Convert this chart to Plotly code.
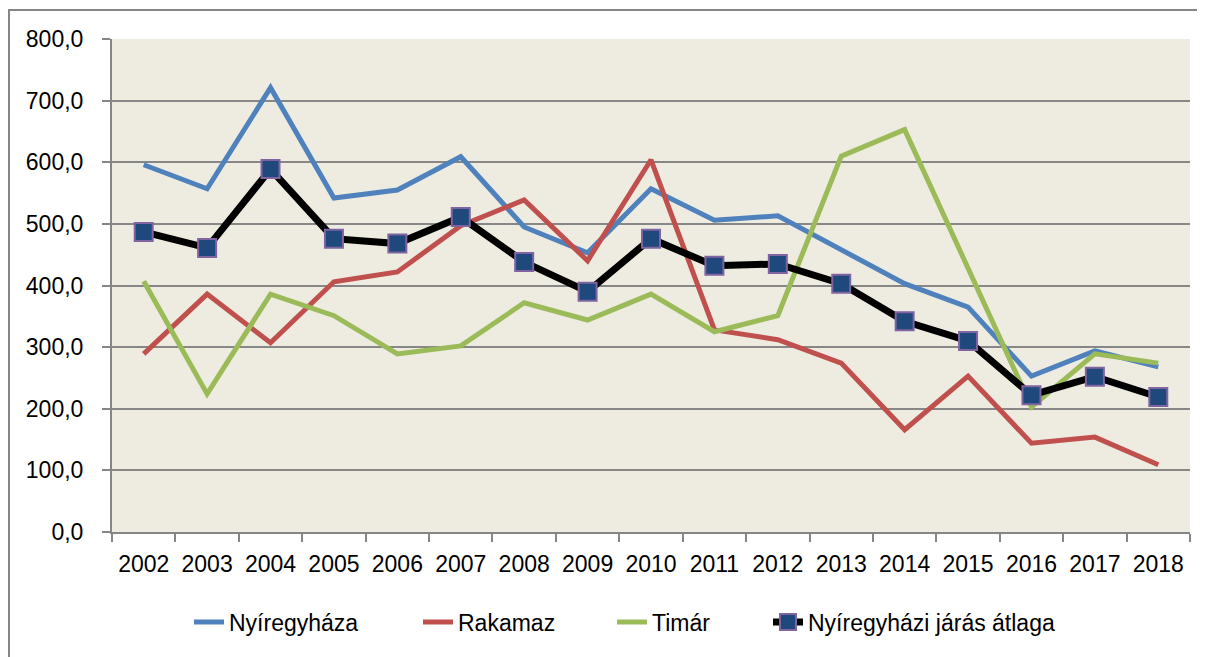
import plotly.graph_objects as go

years = [str(y) for y in range(2002, 2019)]
nyiregyhaza = [596, 557, 721, 542, 555, 609, 495, 453, 557, 506, 513, 458, 403, 365, 253, 294, 268]
rakamaz = [289, 386, 307, 406, 422, 497, 539, 440, 604, 328, 312, 274, 166, 253, 144, 154, 109]
timar = [407, 224, 386, 351, 289, 302, 372, 344, 386, 325, 351, 610, 653, 427, 203, 289, 274]
atlag = [487, 461, 589, 476, 468, 511, 438, 390, 476, 432, 435, 403, 342, 310, 222, 252, 219]
y_ticks = [0, 100, 200, 300, 400, 500, 600, 700, 800]
y_ticktext = ["0,0", "100,0", "200,0", "300,0", "400,0", "500,0", "600,0", "700,0", "800,0"]

font_family = "Liberation Sans, Arial, sans-serif"

fig = go.Figure()
fig.add_trace(go.Scatter(x=years, y=nyiregyhaza, mode="lines", name="Nyíregyháza",
                         line=dict(color="#4F81BD", width=5), legend="legend"))
fig.add_trace(go.Scatter(x=years, y=rakamaz, mode="lines", name="Rakamaz",
                         line=dict(color="#C0504D", width=5), legend="legend2"))
fig.add_trace(go.Scatter(x=years, y=timar, mode="lines", name="Timár",
                         line=dict(color="#9BBB59", width=5), legend="legend3"))
fig.add_trace(go.Scatter(x=years, y=atlag, mode="lines+markers", name="Nyíregyházi járás átlaga",
                         line=dict(color="#000000", width=7),
                         marker=dict(symbol="square", size=18, color="#1F497D",
                                     line=dict(color="#8064A2", width=2)),
                         legend="legend4"))

# page has an 8px body margin; compensate
OFF = 8
W, H = 1205 - OFF, 657 - OFF
L, R, T = 112 - OFF, 1205 - 1190, 39 - OFF
B = H - (532 - OFF)
pw = W - L - R
ph = H - T - B

legend_y = (532 - 622) / ph


def leg(text_start_px):
    return dict(orientation="h", x=(text_start_px - 40 - 112) / pw, xanchor="left",
                y=legend_y, yanchor="middle", font=dict(size=23),
                bgcolor="rgba(0,0,0,0)", borderwidth=0)


fig.update_layout(
    width=W, height=H,
    margin=dict(l=L, r=R, t=T, b=B, autoexpand=False),
    paper_bgcolor="white",
    plot_bgcolor="#EEECE1",
    font=dict(family=font_family, size=23, color="black"),
    showlegend=True,
    legend=leg(229),
    legend2=leg(458),
    legend3=leg(652),
    legend4=leg(808),
    xaxis=dict(type="category", range=[-0.5, 16.5], showgrid=False, showline=True,
               linecolor="#868686", linewidth=2,
               ticks="outside", tickson="boundaries", ticklen=8, tickcolor="#868686", tickwidth=2,
               tickfont=dict(size=23), ticklabelstandoff=10, fixedrange=True, automargin=False),
    yaxis=dict(range=[0, 800], tickvals=y_ticks, ticktext=y_ticktext, showgrid=True,
               gridcolor="#878787", gridwidth=2, showline=True, linecolor="#868686", linewidth=2,
               ticks="outside", ticklen=8, tickcolor="#868686", tickwidth=2, zeroline=False,
               tickfont=dict(size=23), ticklabelstandoff=14, fixedrange=True, automargin=False),
    shapes=[
        dict(type="rect", xref="paper", yref="paper",
             x0=(9 - OFF - L) / pw, x1=(1400 - L) / pw,
             y0=(H - B - 800) / ph, y1=(H - B - (10 - OFF)) / ph,
             line=dict(color="#868686", width=2), fillcolor="rgba(0,0,0,0)", layer="below"),
    ],
)

fig.write_html("out.html")
